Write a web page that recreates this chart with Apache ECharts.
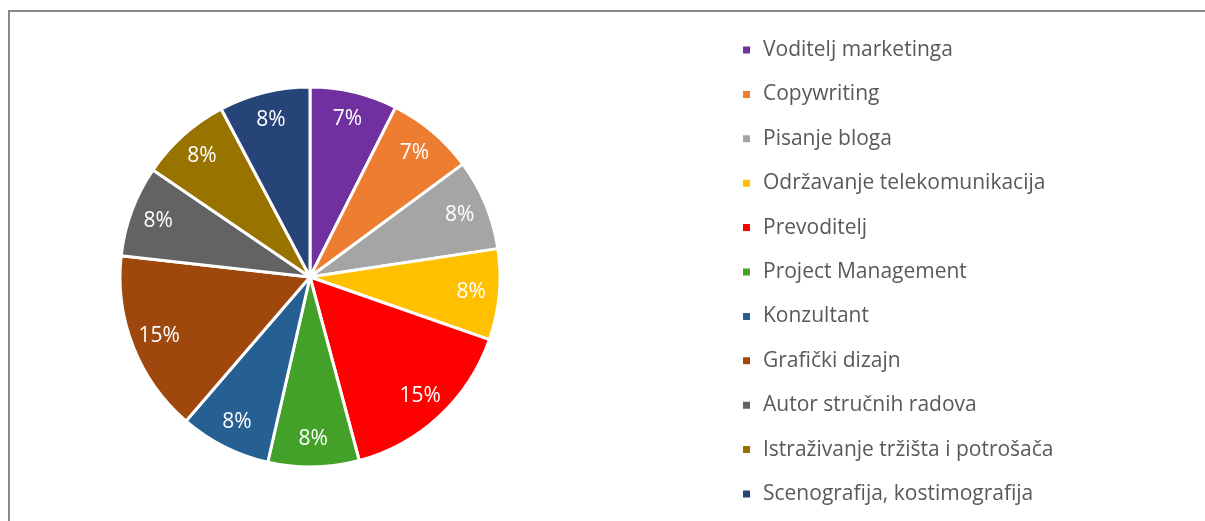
<!DOCTYPE html>
<html>
<head>
<meta charset="utf-8">
<script src="https://cdn.jsdelivr.net/npm/echarts@6/dist/echarts.min.js"></script>
<style>
  html, body { margin: 0; padding: 0; background: #fff; }
  #frame { position: absolute; left: 8px; top: 10px; width: 1205px; height: 520px; border: 2px solid #898989; box-sizing: border-box; }
  #main { position: absolute; left: 0; top: 0; width: 1205px; height: 521px; }
</style>
</head>
<body>
<div id="frame"></div>
<div id="main"></div>
<script>
// poslovi i njihov udio
var categories = ['Voditelj marketinga', 'Copywriting', 'Pisanje bloga', 'Održavanje telekomunikacija',
  'Prevoditelj', 'Project Management', 'Konzultant', 'Grafički dizajn',
  'Autor stručnih radova', 'Istraživanje tržišta i potrošača', 'Scenografija, kostimografija'];
var values = [7.4, 7.4, 7.7, 7.7, 15.4, 7.7, 7.7, 15.4, 7.7, 7.7, 7.7];
var colors = ['#7030A0', '#ED7D31', '#A5A5A5', '#FFC000', '#FF0000', '#43A12A',
  '#265F92', '#9E480E', '#636363', '#997300', '#264478'];

var chart = echarts.init(document.getElementById('main'));

var data = categories.map(function (name, i) {
  return { name: name, value: values[i], itemStyle: { color: colors[i] } };
});

var option = {
  animation: false,
  legend: {
    orient: 'vertical',
    left: 736,
    top: 34,
    icon: 'rect',
    itemWidth: 9,
    itemHeight: 9,
    itemGap: 22.4,
    textStyle: {
      color: '#595959',
      fontFamily: 'Open Sans',
      fontSize: 21,
      lineHeight: 22,
      padding: [0, 0, 0, 7]
    },
    data: categories
  },
  series: [
    {
      type: 'pie',
      center: [310, 277],
      radius: 190,
      startAngle: 90,
      clockwise: true,
      itemStyle: { borderColor: '#fff', borderWidth: 3 },
      label: { show: false },
      labelLine: { show: false },
      emphasis: { disabled: true },
      data: data
    },
    {
      // prozirni prsten samo za oznake postotaka
      type: 'pie',
      center: [310, 277],
      radius: [128, 190],
      startAngle: 90,
      clockwise: true,
      silent: true,
      percentPrecision: 0,
      itemStyle: { color: 'rgba(0,0,0,0)' },
      label: {
        show: true,
        position: 'inside',
        formatter: '{d}%',
        color: '#fff',
        fontFamily: 'Open Sans',
        fontSize: 21
      },
      labelLine: { show: false },
      emphasis: { disabled: true },
      data: categories.map(function (name, i) { return { name: name, value: values[i] }; })
    }
  ]
};

chart.setOption(option);
</script>
</body>
</html>
